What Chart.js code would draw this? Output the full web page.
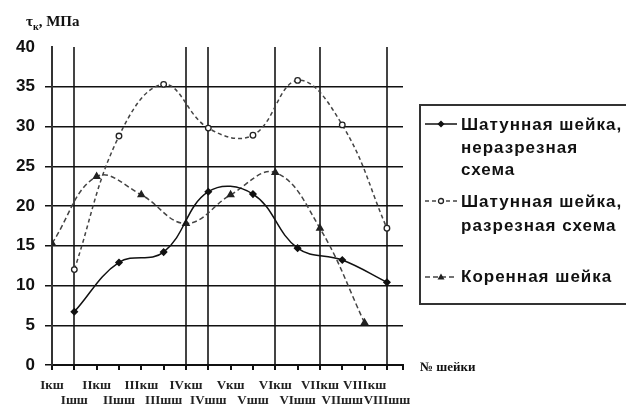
<!DOCTYPE html>
<html lang="ru">
<head>
    <meta charset="UTF-8">
    <title>Касательные напряжения по шейкам</title>
    <script src="https://cdn.jsdelivr.net/npm/chart.js"></script>
    <style>
        body {
            margin: 0;
            background: #fff;
        }
        #wrap {
            position: relative;
            width: 626px;
            height: 408px;
            overflow: hidden;
            font-family: "Liberation Sans", Arial, sans-serif;
            color: #111;
        }
        #wrap canvas {
            position: absolute;
            left: 0;
            top: 0;
        }
        .serif {
            position: absolute;
            font-family: "Liberation Serif", "DejaVu Serif", serif;
            font-weight: bold;
            font-size: 13px;
            line-height: 16px;
            white-space: nowrap;
        }
        #legend {
            position: absolute;
            left: 419px;
            top: 104px;
            width: 230px;
            height: 197px;
            border: 2px solid #333;
            border-right: none;
        }
        .row {
            position: absolute;
            left: 40px;
            font-weight: bold;
            font-size: 17px;
            letter-spacing: 1px;
            line-height: 22px;
            white-space: nowrap;
        }
        .sample {
            position: absolute;
            left: 4px;
        }
    </style>
</head>
<body>
<div id="wrap">
    <canvas id="chart" width="626" height="408"></canvas>

    <div class="serif" style="left:26px; top:13px; font-size:15px;">τ<sub style="font-size:10px;">к</sub>, МПа</div>
    <div class="serif" style="left:420px; top:359px;">№ шейки</div>

    <div id="legend">
        <svg class="sample" style="top:13px" width="32" height="10">
            <line x1="0" y1="5" x2="32" y2="5" stroke="#111" stroke-width="1.5"/>
            <rect x="13.5" y="2.5" width="5" height="5" fill="#111" transform="rotate(45 16 5)"/>
        </svg>
        <div class="row" style="top:8px">Шатунная шейка,</div>
        <div class="row" style="top:31px">неразрезная</div>
        <div class="row" style="top:53px">схема</div>

        <svg class="sample" style="top:90px" width="32" height="10">
            <line x1="0" y1="5" x2="32" y2="5" stroke="#444" stroke-width="1.5" stroke-dasharray="4 3"/>
            <circle cx="16" cy="5" r="2.5" fill="#fff" stroke="#222" stroke-width="1.3"/>
        </svg>
        <div class="row" style="top:85px">Шатунная шейка,</div>
        <div class="row" style="top:109px">разрезная схема</div>

        <svg class="sample" style="top:166px" width="32" height="10">
            <line x1="0" y1="5" x2="32" y2="5" stroke="#444" stroke-width="1.5" stroke-dasharray="5 3"/>
            <polygon points="16,1.5 19.5,7.5 12.5,7.5" fill="#222"/>
        </svg>
        <div class="row" style="top:160px">Коренная шейка</div>
    </div>
</div>

<script>
    // номера шеек: кш - коренная, шш - шатунная
    const journals = ['Iкш', 'Iшш', 'IIкш', 'IIшш', 'IIIкш', 'IIIшш', 'IVкш', 'IVшш',
                      'Vкш', 'Vшш', 'VIкш', 'VIшш', 'VIIкш', 'VIIшш', 'VIIIкш', 'VIIIшш'];

    // τк, МПа
    const crankSolid = [null, 6.7, null, 12.9, null, 14.2, null, 21.8,
                        null, 21.5, null, 14.7, null, 13.2, null, 10.4];
    const crankSplit = [null, 12.0, null, 28.8, null, 35.3, null, 29.8,
                        null, 28.9, null, 35.8, null, 30.2, null, 17.2];
    const mainJournal = [15.3, null, 23.7, null, 21.4, null, 17.8, null,
                         21.4, null, 24.2, null, 17.2, null, 5.3, null];

    const yTicks = [0, 5, 10, 15, 20, 25, 30, 35, 40];
    // вертикальные линии сетки
    const vLines = [0, 1, 6, 7, 10, 12, 15];
    // ось x немного длиннее последней шейки
    const xEnd = 15.72;

    const toPoints = arr => arr.map((v, i) => ({ x: i, y: v }));

    new Chart(document.getElementById('chart'), {
        type: 'line',
        data: {
            datasets: [
                {
                    label: 'Шатунная шейка, неразрезная схема',
                    data: toPoints(crankSolid),
                    borderColor: '#111',
                    borderWidth: 1.5,
                    pointStyle: 'rectRot',
                    pointRadius: 3,
                    pointBackgroundColor: '#111',
                    pointBorderColor: '#111',
                    tension: 0.4,
                    spanGaps: true
                },
                {
                    label: 'Шатунная шейка, разрезная схема',
                    data: toPoints(crankSplit),
                    borderColor: '#444',
                    borderWidth: 1.5,
                    borderDash: [4, 3],
                    pointStyle: 'circle',
                    pointRadius: 2.8,
                    pointBackgroundColor: '#fff',
                    pointBorderColor: '#222',
                    pointBorderWidth: 1.3,
                    tension: 0.4,
                    spanGaps: true
                },
                {
                    label: 'Коренная шейка',
                    data: toPoints(mainJournal),
                    borderColor: '#444',
                    borderWidth: 1.5,
                    borderDash: [5, 3],
                    pointStyle: 'triangle',
                    pointRadius: 3.5,
                    pointBackgroundColor: '#222',
                    pointBorderColor: '#222',
                    tension: 0.4,
                    spanGaps: true
                }
            ]
        },
        options: {
            responsive: false,
            animation: false,
            layout: { padding: { top: 47, right: 223, left: 0, bottom: 0 } },
            plugins: {
                legend: { display: false },
                tooltip: { enabled: false }
            },
            scales: {
                x: {
                    type: 'linear',
                    min: 0,
                    max: xEnd,
                    afterFit: s => { s.height = 43; },
                    afterBuildTicks: s => {
                        s.ticks = journals.map((_, i) => ({ value: i })).concat({ value: xEnd });
                    },
                    border: { display: true, color: '#111', width: 2 },
                    grid: {
                        color: c => vLines.includes(c.tick.value) ? '#444' : 'rgba(0,0,0,0)',
                        lineWidth: 2,
                        tickColor: '#111',
                        tickLength: 5
                    },
                    ticks: {
                        autoSkip: false,
                        maxRotation: 0,
                        padding: 8,
                        color: '#222',
                        font: { family: '"Liberation Serif", serif', size: 13, weight: 'bold', lineHeight: '15px' },
                        callback: v => {
                            if (!Number.isInteger(v) || !journals[v]) return '';
                            return v % 2 === 0 ? [journals[v], ''] : ['', journals[v]];
                        }
                    }
                },
                y: {
                    min: 0,
                    max: 40,
                    afterFit: s => { s.width = 52; },
                    afterBuildTicks: s => { s.ticks = yTicks.map(v => ({ value: v })); },
                    border: { display: true, color: '#333', width: 2 },
                    grid: {
                        color: c => c.tick.value === 40 ? 'rgba(0,0,0,0)' : '#111',
                        lineWidth: 1.5,
                        tickLength: 7
                    },
                    ticks: {
                        padding: 10,
                        color: '#111',
                        font: { family: '"Liberation Sans", Arial, sans-serif', size: 17, weight: 'bold' }
                    }
                }
            }
        }
    });
</script>
</body>
</html>
